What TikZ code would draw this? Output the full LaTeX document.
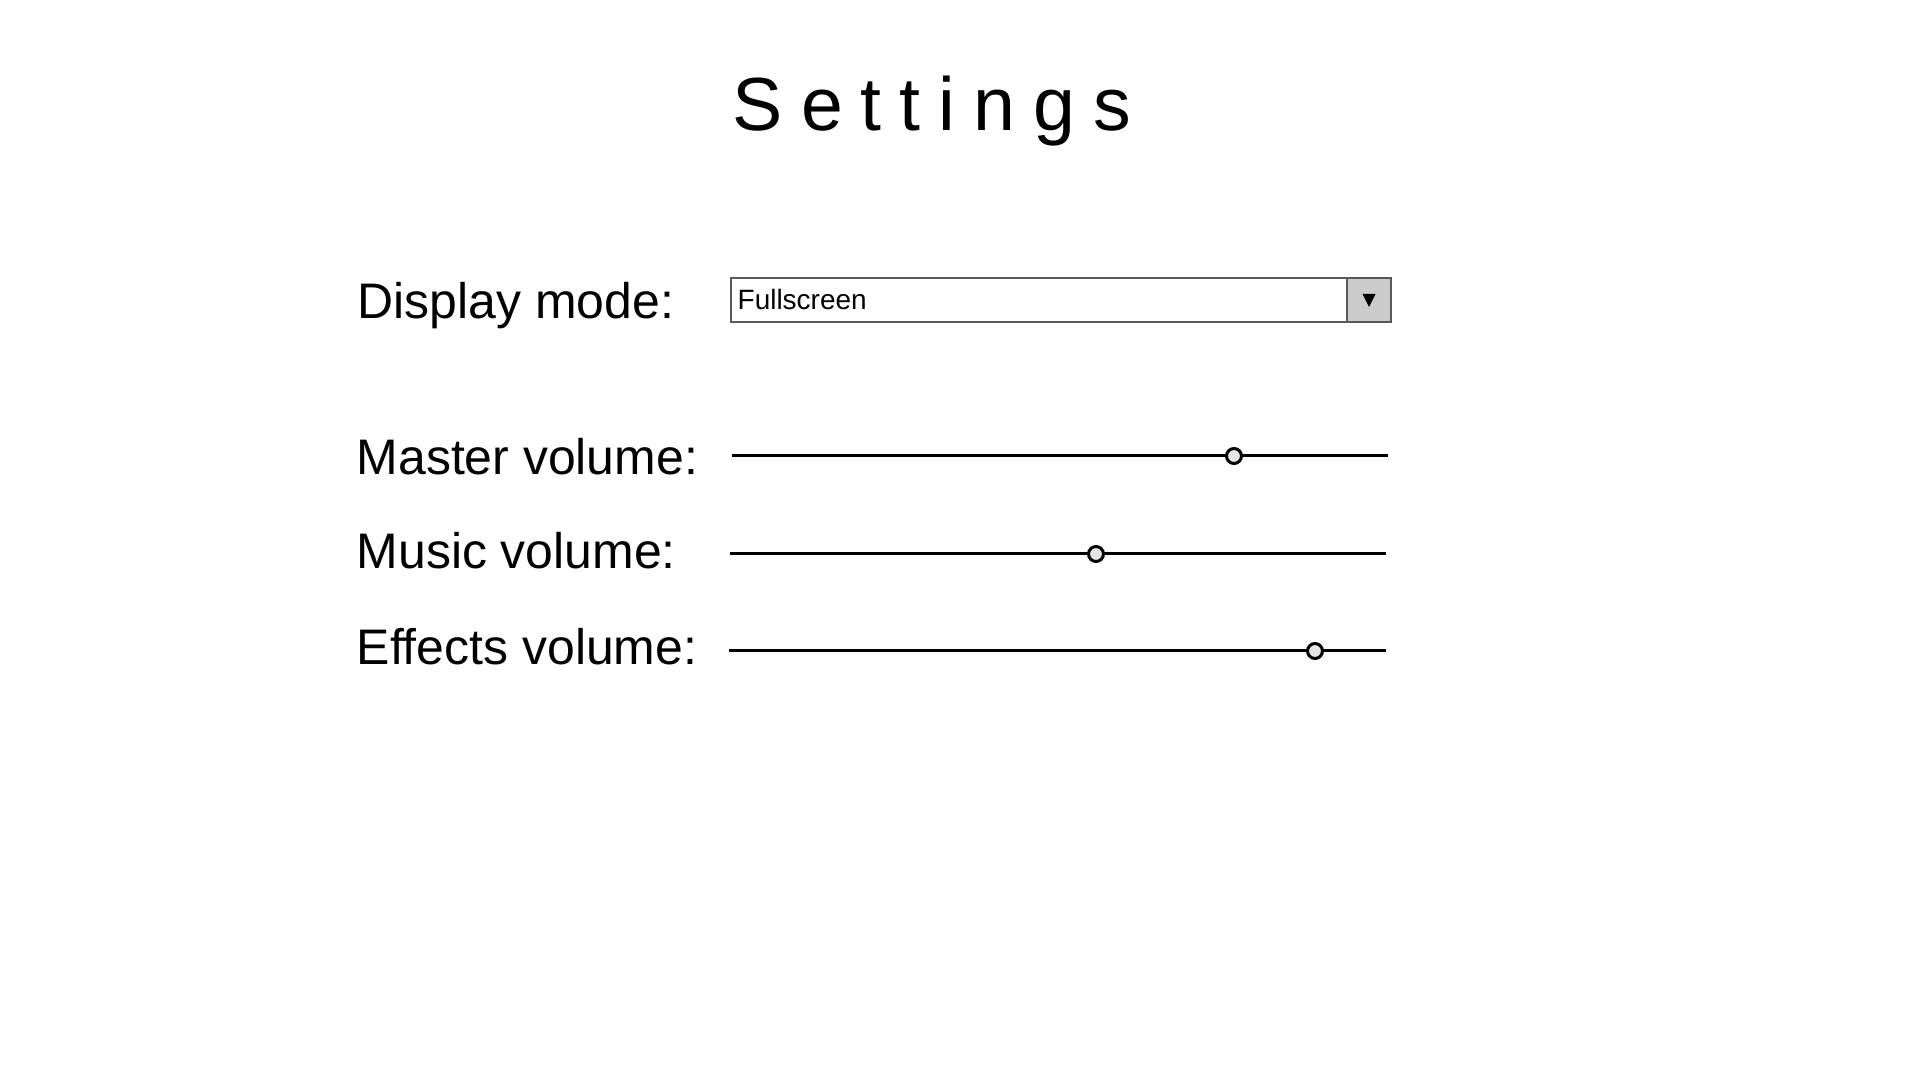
\documentclass[tikz,border=0pt]{standalone}
\usepackage{fontspec}
\setmainfont{Liberation Sans}
\begin{document}
\begin{tikzpicture}[x=0.01cm,y=-0.01cm,
  lbl/.style={anchor=base west,inner sep=0pt,font=\fontsize{14.2pt}{16pt}\selectfont},
  track/.style={line width=0.85pt,black},
  knob/.style={circle,draw=black,line width=0.85pt,fill=black!10,minimum size=0.15cm,inner sep=0pt},
  ddbox/.style={draw=black!65,line width=0.4pt,fill=white}]
\useasboundingbox (0,0) rectangle (1920,1080);
\newcommand{\ls}{\kern0.24em}
\node[anchor=base,inner sep=0pt,font=\fontsize{21.4pt}{25pt}\selectfont] (title) at (932,131) {S\ls e\ls t\ls t\ls i\ls n\ls g\ls s};
\node[lbl] (ldisp) at (357,318.5) {Display mode:};
\node[lbl] (lmaster) at (356,475) {Master volume:};
\node[lbl] (lmusic) at (356,568.5) {Music volume:};
\node[lbl] (leffects) at (356,664.5) {Effects volume:};
% dropdown
\draw[ddbox] (731,278) rectangle (1391,322);
\draw[ddbox,fill=black!20] (1347,278) rectangle (1391,322);
\fill (1362.5,294) -- (1375.5,294) -- (1369,307) -- cycle;
\node[anchor=base west,inner sep=0pt,font=\fontsize{7.95pt}{9pt}\selectfont] (dtext) at (737,310) {Fullscreen};
% sliders
\coordinate (m1) at (732,456); \coordinate (m2) at (1388,456);
\coordinate (u1) at (730,554); \coordinate (u2) at (1386,554);
\coordinate (e1) at (729,651); \coordinate (e2) at (1386,651);
\draw[track] (m1) -- (m2);
\draw[track] (u1) -- (u2);
\draw[track] (e1) -- (e2);
\node[knob] (km) at (1234,456) {};
\node[knob] (ku) at (1096,554) {};
\node[knob] (ke) at (1315,651) {};
\end{tikzpicture}
\end{document}
